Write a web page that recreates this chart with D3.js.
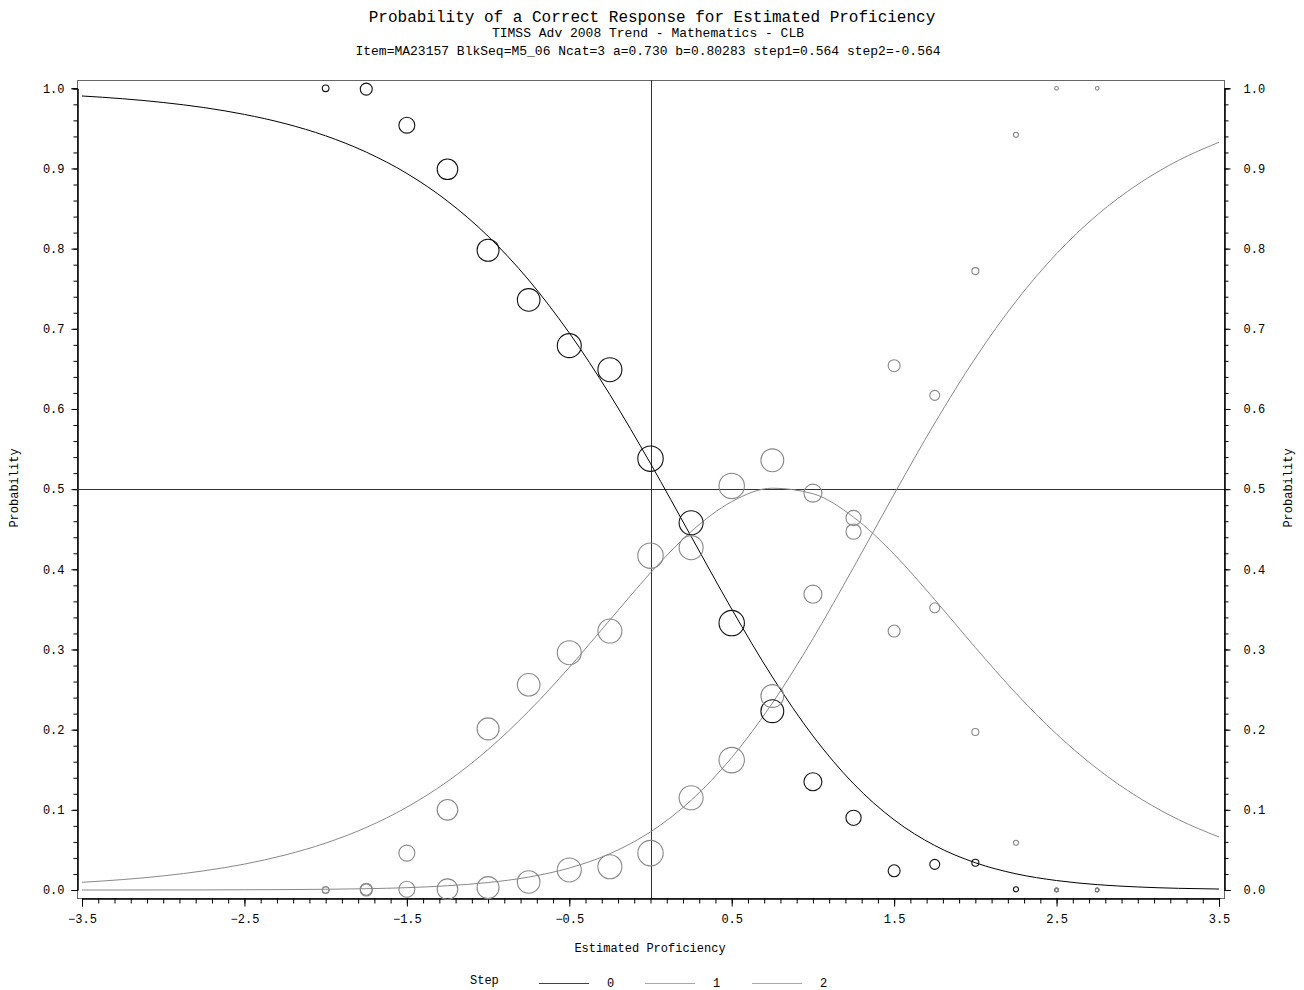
<!DOCTYPE html>
<html>
<head>
<meta charset="utf-8">
<script src="https://cdn.jsdelivr.net/npm/d3@7"></script>
<style>
  body { margin: 0; background: #fff; }
  text { font-family: "Liberation Mono", "DejaVu Sans Mono", monospace; fill: #000; }
</style>
</head>
<body>
<div id="chart"></div>
<script>
// fitted category curves (at 0.25 steps)
const curveTheta = [-3.5, -3.25, -3, -2.75, -2.5, -2.25, -2, -1.75, -1.5, -1.25, -1, -0.75, -0.5, -0.25,
  0, 0.25, 0.5, 0.75, 1, 1.25, 1.5, 1.75, 2, 2.25, 2.5, 2.75, 3, 3.25, 3.5];
const curve0 = [0.9904, 0.9870, 0.9823, 0.9760, 0.9674, 0.9560, 0.9407, 0.9204, 0.8938, 0.8593, 0.8155, 0.7609, 0.6949, 0.6179,
  0.5320, 0.4411, 0.3504, 0.2658, 0.1922, 0.1326, 0.0875, 0.0555, 0.0340, 0.0202, 0.0118, 0.0067, 0.0038, 0.0021, 0.0012];
const curve1 = [0.0096, 0.0130, 0.0176, 0.0239, 0.0323, 0.0436, 0.0585, 0.0780, 0.1033, 0.1354, 0.1752, 0.2230, 0.2777, 0.3368,
  0.3955, 0.4471, 0.4844, 0.5012, 0.4943, 0.4651, 0.4187, 0.3621, 0.3025, 0.2454, 0.1945, 0.1513, 0.1160, 0.0879, 0.0661];
const curve2 = [0.0000, 0.0000, 0.0001, 0.0001, 0.0003, 0.0005, 0.0009, 0.0016, 0.0029, 0.0053, 0.0093, 0.0161, 0.0274, 0.0453,
  0.0725, 0.1118, 0.1652, 0.2330, 0.3135, 0.4023, 0.4938, 0.5824, 0.6635, 0.7343, 0.7937, 0.8420, 0.8802, 0.9100, 0.9327];

// observed proportions per proficiency group
const obsTheta = [-2, -1.75, -1.5, -1.25, -1, -0.75, -0.5, -0.25, 0, 0.25, 0.5, 0.75, 1, 1.25, 1.5, 1.75, 2, 2.25, 2.5, 2.75];
const obs0 = [1.0, 0.999, 0.954, 0.899, 0.798, 0.736, 0.679, 0.649, 0.538, 0.458, 0.333, 0.223, 0.135, 0.090, 0.024, 0.032, 0.034, 0.001, 0, 0];
const obs1 = [0, 0.001, 0.046, 0.100, 0.201, 0.256, 0.296, 0.323, 0.417, 0.427, 0.504, 0.536, 0.495, 0.464, 0.323, 0.352, 0.197, 0.059, 0, 0];
const obs2 = [0, 0, 0.001, 0.001, 0.003, 0.010, 0.025, 0.029, 0.046, 0.115, 0.162, 0.242, 0.369, 0.447, 0.654, 0.617, 0.772, 0.942, 1.0, 1.0];
const obsN = [26, 85, 151, 251, 286, 302, 341, 341, 382, 341, 382, 308, 192, 137, 85, 59, 29, 15, 8, 8];

const steps = ["0", "1", "2"];
const xTicks = [-3.5, -2.5, -1.5, -0.5, 0.5, 1.5, 2.5, 3.5];
const yTicks = [0, 0.1, 0.2, 0.3, 0.4, 0.5, 0.6, 0.7, 0.8, 0.9, 1.0];

const title = "Probability of a Correct Response for Estimated Proficiency";
const subtitle = "TIMSS Adv 2008 Trend - Mathematics - CLB";
const itemLine = "Item=MA23157 BlkSeq=M5_06 Ncat=3 a=0.730 b=0.80283 step1=0.564 step2=-0.564";

const width = 1304, height = 990;
const frame = { left: 77, right: 1224, top: 80, bottom: 898 };
const colors = ["#000", "#888", "#888"];

const svg = d3.select("#chart").append("svg")
  .attr("width", width)
  .attr("height", height);

const x = d3.scaleLinear().domain([-3.5, 3.5]).range([82, 1219]);
const y = d3.scaleLinear().domain([0, 1]).range([890, 88.3]);
const r = d3.scaleSqrt().domain([0, 400]).range([0, 13]);

// titles
svg.append("text").attr("x", 652).attr("y", 22).attr("text-anchor", "middle")
  .style("font-size", "16px").text(title);
svg.append("text").attr("x", 648).attr("y", 37).attr("text-anchor", "middle")
  .style("font-size", "13px").text(subtitle);
svg.append("text").attr("x", 648).attr("y", 55).attr("text-anchor", "middle")
  .style("font-size", "13px").text(itemLine);

// frame
svg.append("rect")
  .attr("x", frame.left + 0.5).attr("y", frame.top + 0.5)
  .attr("width", frame.right - frame.left).attr("height", frame.bottom - frame.top)
  .attr("fill", "none").attr("stroke", "#666");

// axes: minor then major ticks
const minorY = d3.range(0, 1.0001, 0.02);
const minorX = d3.range(-3.5, 3.5001, 0.1);

function styleAxis(g) {
  g.selectAll("text").style("font-size", "12px").attr("font-family", null);
  g.selectAll("line").attr("stroke", "#000");
  g.select(".domain").attr("stroke", "#000");
}

svg.append("g").attr("transform", `translate(${frame.left + 0.5},0)`)
  .call(d3.axisLeft(y).tickValues(minorY).tickSize(4).tickFormat(""))
  .call(styleAxis);
svg.append("g").attr("transform", `translate(${frame.left + 0.5},0)`)
  .call(d3.axisLeft(y).tickValues(yTicks).tickSize(6).tickPadding(7).tickFormat(d3.format(".1f")))
  .call(styleAxis);
svg.append("g").attr("transform", `translate(${frame.right + 0.5},0)`)
  .call(d3.axisRight(y).tickValues(minorY).tickSize(4).tickFormat(""))
  .call(styleAxis);
svg.append("g").attr("transform", `translate(${frame.right + 0.5},0)`)
  .call(d3.axisRight(y).tickValues(yTicks).tickSize(6).tickPadding(13).tickFormat(d3.format(".1f")))
  .call(styleAxis);
svg.append("g").attr("transform", `translate(0,${frame.bottom + 0.5})`)
  .call(d3.axisBottom(x).tickValues(minorX).tickSize(5).tickFormat(""))
  .call(styleAxis);
svg.append("g").attr("transform", `translate(0,${frame.bottom + 0.5})`)
  .call(d3.axisBottom(x).tickValues(xTicks).tickSize(8).tickPadding(8).tickFormat(d3.format(".1f")))
  .call(styleAxis);

// axis labels
svg.append("text").attr("x", 650).attr("y", 952).attr("text-anchor", "middle")
  .style("font-size", "12px").text("Estimated Proficiency");
svg.append("text").attr("transform", "translate(18,488) rotate(-90)").attr("text-anchor", "middle")
  .style("font-size", "12px").text("Probability");
svg.append("text").attr("transform", "translate(1292,488) rotate(-90)").attr("text-anchor", "middle")
  .style("font-size", "12px").text("Probability");

// reference lines
svg.append("line")
  .attr("x1", Math.round(x(0)) + 0.5).attr("x2", Math.round(x(0)) + 0.5)
  .attr("y1", frame.top).attr("y2", frame.bottom)
  .attr("stroke", "#333");
svg.append("line")
  .attr("x1", frame.left).attr("x2", frame.right)
  .attr("y1", Math.round(y(0.5)) + 0.5).attr("y2", Math.round(y(0.5)) + 0.5)
  .attr("stroke", "#333");

// curves
const line = d3.line()
  .x((d, i) => x(curveTheta[i]))
  .y(d => y(d))
  .curve(d3.curveMonotoneX);

[curve0, curve1, curve2].forEach((c, k) => {
  svg.append("path")
    .attr("d", line(c))
    .attr("fill", "none")
    .attr("stroke", colors[k])
    .attr("stroke-width", 1);
});

// observed circles
[obs0, obs1, obs2].forEach((o, k) => {
  svg.append("g").selectAll("circle")
    .data(o)
    .join("circle")
    .attr("cx", (d, i) => x(obsTheta[i]))
    .attr("cy", d => y(d))
    .attr("r", (d, i) => r(obsN[i]))
    .attr("fill", "none")
    .attr("stroke", k === 0 ? "#111" : "#888")
    .attr("stroke-width", 1.1);
});

// legend
svg.append("text").attr("x", 470).attr("y", 984)
  .style("font-size", "12px").text("Step");
const legendX = [539, 645, 752];
steps.forEach((s, k) => {
  svg.append("line")
    .attr("x1", legendX[k]).attr("x2", legendX[k] + 50)
    .attr("y1", 983.5).attr("y2", 983.5)
    .attr("stroke", k === 0 ? "#444" : "#aaa");
  svg.append("text").attr("x", legendX[k] + 68).attr("y", 987)
    .style("font-size", "12px").text(s);
});
</script>
</body>
</html>
